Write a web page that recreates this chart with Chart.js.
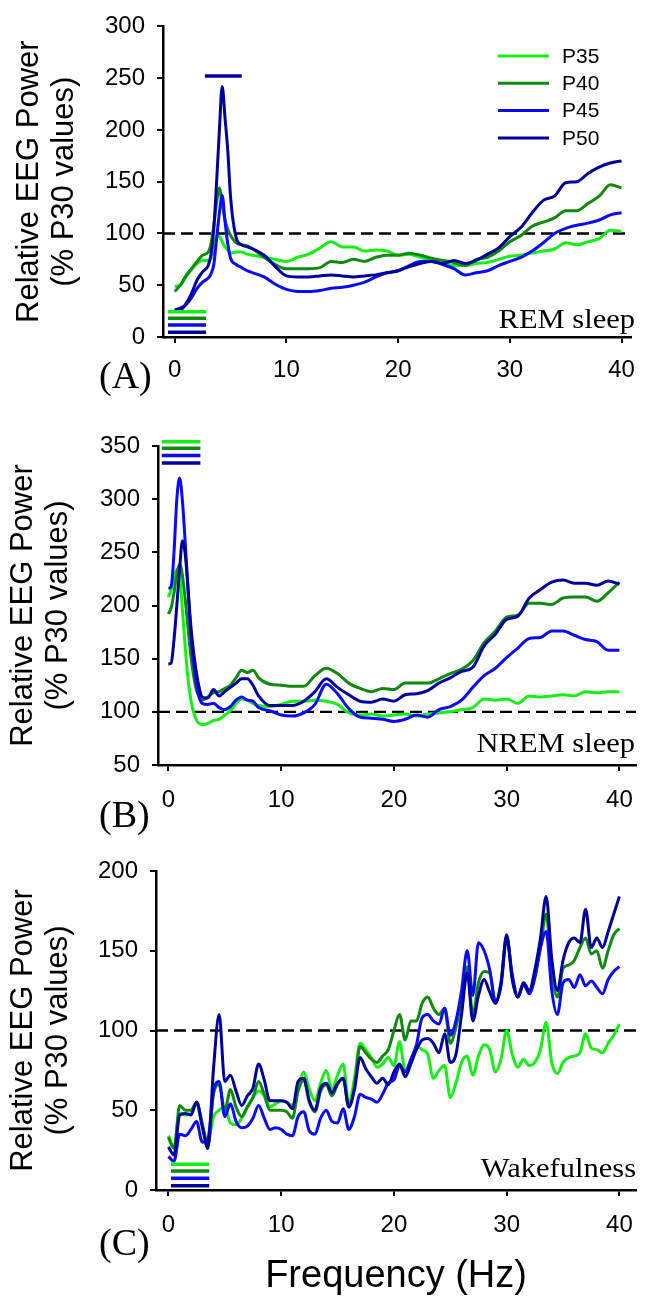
<!DOCTYPE html>
<html>
<head>
<meta charset="utf-8">
<script src="https://cdn.jsdelivr.net/npm/chart.js@4.4.1/dist/chart.umd.min.js"></script>
<style>
  body { margin: 0; background: #fff; }
  #wrap { position: relative; width: 648px; height: 1306px; }
  canvas { position: absolute; left: 0; }
</style>
</head>
<body>
<div id="wrap">
  <canvas id="chartA" width="648" height="400" style="top:0px"></canvas>
  <canvas id="chartB" width="648" height="440" style="top:400px"></canvas>
  <canvas id="chartC" width="648" height="466" style="top:840px"></canvas>
</div>
<script>
const seriesNames = ['P35', 'P40', 'P45', 'P50']
const seriesColors = ['#14f014', '#0f8a0f', '#0a0aff', '#00009c']
const xTicks = [0, 10, 20, 30, 40]
const baselineLevel = 100
const yTitle = ['Relative EEG Power', '(% P30 values)']

// (A) REM sleep
const remFreq = [0, 0.5, 1, 1.5, 2, 2.5, 3, 3.25, 3.5, 3.75, 4, 4.25, 4.5, 4.75, 5, 5.5, 6, 6.5,
  7, 8, 9, 10, 11, 12, 13, 14, 15, 16, 17, 18, 19, 20, 21, 22, 23, 24, 25, 26, 27, 28, 29, 30,
  31, 32, 33, 34, 35, 36, 37, 38, 39, 40]
const remP35 = [49, 50, 58, 65, 71, 74, 74, 76, 85, 97, 97, 92, 87, 84, 81, 82, 82, 80,
  79, 77, 75, 73, 77, 80, 86, 92, 87, 87, 83, 84, 83, 79, 80, 77, 74, 72, 69, 69, 71, 72, 75, 78,
  79, 81, 83, 85, 91, 89, 92, 95, 103, 102]
const remP40 = [44, 50, 59, 66, 73, 79, 82, 90, 108, 130, 144, 128, 113, 104, 98, 91, 89, 88,
  85, 77, 70, 66, 66, 66, 67, 73, 72, 75, 73, 77, 79, 79, 81, 79, 76, 74, 72, 69, 75, 77, 83, 92,
  98, 107, 111, 115, 122, 122, 129, 136, 147, 144]
const remP45 = [26, 28, 31, 38, 47, 53, 57, 61, 70, 95, 120, 137, 112, 90, 76, 70, 67, 64,
  62, 58, 51, 46, 44, 44, 45, 47, 48, 50, 53, 58, 62, 64, 69, 73, 73, 70, 66, 60, 62, 64, 69, 73,
  77, 83, 91, 100, 105, 108, 110, 113, 118, 120]
const remP50 = [26, 26, 32, 42, 55, 63, 69, 80, 105, 150, 200, 242, 212, 180, 135, 96, 89, 87,
  85, 79, 68, 59, 58, 58, 59, 60, 59, 58, 59, 60, 62, 64, 68, 71, 73, 71, 74, 71, 74, 80, 86, 97,
  106, 120, 132, 136, 149, 150, 158, 164, 168, 170]
const remSigSpan = [-0.6, 2.8]
const remSigLevels = [24.4, 18.1, 11.6, 4.7]
const remPeakSpan = [2.7, 6.0]
const remPeakLevel = 252

// (B) NREM sleep
const nremFreq = [0, 0.25, 0.5, 0.75, 1, 1.25, 1.5, 1.75, 2, 2.25, 2.5, 2.75, 3,
  3.5, 4, 4.5, 5, 5.5, 6, 6.5, 7, 7.5, 8, 9, 10, 11, 12, 13, 14, 15, 16, 17, 18, 19, 20,
  21, 22, 23, 24, 25, 26, 27, 28, 29, 30, 31, 32, 33, 34, 35, 36, 37, 38, 39, 40]
const nremP35 = [208, 215, 225, 234, 228, 195, 160, 130, 111, 99, 92, 89, 88,
  89, 92, 93, 97, 101, 108, 112, 111, 108, 106, 105, 107, 110, 110, 111, 110, 107, 99, 97, 98, 96, 97,
  98, 96, 98, 99, 100, 102, 104, 112, 111, 112, 108, 115, 114, 115, 116, 115, 119, 118, 119, 119]
const nremP40 = [192, 198, 212, 230, 239, 228, 205, 178, 152, 133, 120, 114, 111,
  114, 118, 119, 122, 125, 132, 139, 137, 139, 132, 126, 125, 124, 124, 134, 141, 136, 127, 122, 119, 122, 121,
  127, 127, 127, 131, 136, 140, 148, 165, 176, 189, 191, 202, 202, 201, 207, 208, 208, 204, 212, 222]
const nremP45 = [216, 218, 250, 300, 320, 298, 258, 214, 172, 145, 125, 113, 108,
  107, 108, 104, 102, 105, 111, 114, 111, 110, 104, 101, 97, 96, 99, 107, 126, 117, 103, 95, 94, 93, 91,
  93, 97, 95, 102, 105, 111, 123, 134, 141, 151, 160, 169, 170, 176, 176, 172, 168, 166, 158, 158]
const nremP50 = [145, 146, 168, 200, 235, 261, 248, 215, 180, 155, 136, 122, 114,
  113, 121, 115, 119, 123, 127, 131, 131, 125, 115, 106, 106, 106, 110, 119, 131, 123, 116, 110, 109, 112, 110,
  116, 117, 120, 127, 132, 138, 142, 162, 173, 187, 190, 207, 215, 222, 224, 221, 221, 219, 223, 220]
const nremSigSpan = [-0.58, 2.84]
const nremSigLevels = [354, 348, 341, 334]

// (C) Wakefulness
const wakeFreq = [0, 0.5, 1, 1.5, 2, 2.5, 3, 3.5, 4, 4.5, 5, 5.5, 6, 6.5, 7, 7.5, 8, 8.5, 9, 9.5,
  10, 10.5, 11, 11.5, 12, 12.5, 13, 13.5, 14, 14.5, 15, 15.5, 16, 16.5, 17, 17.5, 18, 18.5, 19, 19.5,
  20, 20.5, 21, 21.5, 22, 22.5, 23, 23.5, 24, 24.5, 25, 25.5, 26, 26.5, 27, 27.5, 28, 28.5, 29, 29.5,
  30, 30.5, 31, 31.5, 32, 32.5, 33, 33.5, 34, 34.5, 35, 35.5, 36, 36.5, 37, 37.5, 38, 38.5, 39, 39.5, 40]
const wakeP35 = [34, 27, 48, 47, 48, 55, 40, 30, 46, 50, 52, 42, 41, 45, 52, 58, 62, 59, 52, 54,
  56, 55, 53, 64, 74, 63, 56, 67, 75, 63, 72, 79, 54, 70, 92, 88, 83, 77, 79, 83,
  78, 93, 75, 81, 90, 88, 85, 70, 75, 78, 58, 67, 80, 84, 72, 84, 91, 88, 74, 82,
  100, 85, 77, 82, 78, 80, 88, 105, 80, 73, 80, 83, 84, 86, 98, 89, 88, 86, 92, 97, 104]
const wakeP40 = [33, 26, 53, 50, 50, 55, 42, 28, 60, 66, 50, 63, 52, 46, 52, 58, 68, 60, 50, 50,
  50, 49, 45, 62, 69, 55, 49, 62, 66, 59, 66, 70, 52, 65, 90, 86, 82, 80, 84, 88,
  100, 110, 94, 106, 106, 117, 121, 114, 110, 114, 92, 102, 120, 140, 110, 130, 137, 136, 118, 130,
  159, 132, 121, 130, 124, 134, 152, 173, 137, 121, 139, 141, 144, 152, 158, 148, 150, 139, 150, 160, 164]
const wakeP45 = [21, 18, 35, 34, 38, 43, 30, 32, 62, 68, 46, 54, 43, 39, 40, 45, 53, 45, 38, 39,
  38, 35, 34, 46, 49, 37, 35, 45, 50, 43, 42, 51, 38, 46, 60, 58, 57, 55, 60, 67,
  69, 78, 74, 82, 91, 108, 110, 106, 104, 114, 97, 106, 125, 150, 122, 155, 150, 138, 118, 128,
  158, 135, 121, 129, 123, 133, 152, 162, 125, 110, 130, 132, 127, 135, 128, 131, 127, 123, 132, 137, 140]
const wakeP50 = [27, 22, 47, 48, 47, 55, 40, 26, 76, 110, 68, 72, 62, 53, 59, 64, 79, 69, 56, 56,
  56, 55, 51, 68, 70, 56, 50, 64, 67, 61, 67, 70, 52, 63, 83, 76, 71, 67, 70, 66,
  74, 79, 71, 79, 88, 94, 95, 92, 86, 98, 80, 85, 110, 136, 106, 122, 132, 124, 117, 130,
  160, 132, 121, 130, 125, 138, 158, 184, 145, 125, 144, 155, 158, 155, 176, 152, 158, 152, 162, 173, 184]
const wakeSigSpan = [0.23, 3.62]
const wakeSigLevels = [16.1, 11.9, 7.3, 2.7]

Chart.defaults.font.family = '"Liberation Sans", Arial, sans-serif'
Chart.defaults.color = '#000'

const tickFont = { size: 24 }
const axisGrid = { drawOnChartArea: false, drawTicks: true, tickLength: 6, color: '#000', lineWidth: 2 }
const axisBorder = { display: true, color: '#000', width: 2.5 }

// panel tag, state name and (panel A only) the key
const panelText = {
  id: 'panelText',
  afterDatasetsDraw(chart, args, o) {
    const ctx = chart.ctx
    ctx.save()
    ctx.fillStyle = '#000'
    ctx.textBaseline = 'alphabetic'
    ctx.save()
    ctx.translate(o.stateX, o.stateY)
    ctx.scale(1.13, 1)
    ctx.font = '27px "Liberation Serif", "Times New Roman", serif'
    ctx.textAlign = 'right'
    ctx.fillText(o.state, 0, 0)
    ctx.restore()
    ctx.font = '38px "Liberation Serif", "Times New Roman", serif'
    ctx.textAlign = 'left'
    ctx.fillText(o.tag, o.tagX, o.tagY)
    if (o.legend) {
      ctx.font = '21px "Liberation Sans", Arial, sans-serif'
      ctx.textBaseline = 'middle'
      seriesNames.forEach((name, i) => {
        const y = 56 + i * 27.3
        ctx.strokeStyle = seriesColors[i]
        ctx.lineWidth = 3
        ctx.beginPath()
        ctx.moveTo(498, y)
        ctx.lineTo(549, y)
        ctx.stroke()
        ctx.fillStyle = '#000'
        ctx.fillText(name, 562, y + 1)
      })
    }
    ctx.restore()
  },
}

function seriesSets(freq, values) {
  return values.map((vals, i) => ({
    label: seriesNames[i],
    data: freq.map((f, j) => ({ x: f, y: vals[j] })),
    borderColor: seriesColors[i],
    borderWidth: 3,
    pointRadius: 0,
    cubicInterpolationMode: 'monotone',
    order: 4 - i,
  }))
}

function barSets(span, levels) {
  return levels.map((lv, i) => ({
    data: span.map((x) => ({ x: x, y: lv })),
    borderColor: seriesColors[i],
    borderWidth: 3.5,
    pointRadius: 0,
    clip: false,
    order: 0,
  }))
}

function refLine(p) {
  return {
    data: [{ x: p.xMin, y: baselineLevel }, { x: p.xMax, y: baselineLevel }],
    borderColor: '#000',
    borderWidth: 2.4,
    borderDash: [12, 6],
    pointRadius: 0,
    order: 10,
  }
}

function makePanel(id, p, datasets) {
  return new Chart(document.getElementById(id), {
    type: 'line',
    data: { datasets: [refLine(p)].concat(datasets) },
    plugins: [panelText],
    options: {
      responsive: false,
      animation: false,
      devicePixelRatio: 1,
      events: [],
      layout: { padding: { left: p.padLeft, top: p.padTop, right: p.padRight, bottom: 0 } },
      plugins: {
        legend: { display: false },
        tooltip: { enabled: false },
        panelText: p.text,
      },
      scales: {
        x: {
          type: 'linear',
          min: p.xMin,
          max: p.xMax,
          afterBuildTicks: (s) => { s.ticks = xTicks.map((v) => ({ value: v })) },
          afterFit: (s) => { s.height = p.xHeight },
          ticks: { font: tickFont, color: '#000', padding: p.xPad, maxRotation: 0, autoSkip: false },
          grid: axisGrid,
          border: axisBorder,
          title: p.xTitle
            ? { display: true, text: p.xTitle, color: '#000', font: { size: 38, lineHeight: 1.2 }, padding: { top: 0, bottom: 7 } }
            : { display: false },
        },
        y: {
          min: p.yMin,
          max: p.yMax,
          afterFit: (s) => { s.width = p.yWidth },
          ticks: { stepSize: 50, font: tickFont, color: '#000', padding: 12 },
          grid: axisGrid,
          border: axisBorder,
          title: { display: true, text: yTitle, color: '#000', font: { size: 31, lineHeight: 1.12 }, padding: { top: 6, bottom: 0 } },
        },
      },
    },
  })
}

const panelA = { padLeft: 6, padTop: 17, padRight: 6, yWidth: 157, xHeight: 63, xMin: -1.05, xMax: 40.87,
  yMin: 0, yMax: 300, xPad: 13,
  text: { state: 'REM sleep', stateX: 635, stateY: 328, tag: '(A)', tagX: 99, tagY: 388, legend: true } }
const panelB = { padLeft: 0, padTop: 46, padRight: 7, yWidth: 158, xHeight: 75, xMin: -0.92, xMax: 41.48,
  yMin: 50, yMax: 350, xPad: 15,
  text: { state: 'NREM sleep', stateX: 635, stateY: 352, tag: '(B)', tagX: 99, tagY: 427, legend: false } }
const panelC = { padLeft: 0, padTop: 31, padRight: 7, yWidth: 156, xHeight: 116, xMin: -1.1, xMax: 41.48,
  yMin: 0, yMax: 200, xPad: 15, xTitle: 'Frequency (Hz)',
  text: { state: 'Wakefulness', stateX: 636, stateY: 337, tag: '(C)', tagX: 99, tagY: 415, legend: false } }

makePanel('chartA', panelA, seriesSets(remFreq, [remP35, remP40, remP45, remP50])
  .concat(barSets(remSigSpan, remSigLevels))
  .concat([{ data: remPeakSpan.map((x) => ({ x: x, y: remPeakLevel })), borderColor: seriesColors[3], borderWidth: 3.5, pointRadius: 0, order: 0 }]))

makePanel('chartB', panelB, seriesSets(nremFreq, [nremP35, nremP40, nremP45, nremP50])
  .concat(barSets(nremSigSpan, nremSigLevels)))

makePanel('chartC', panelC, seriesSets(wakeFreq, [wakeP35, wakeP40, wakeP45, wakeP50])
  .concat(barSets(wakeSigSpan, wakeSigLevels)))
</script>
</body>
</html>
